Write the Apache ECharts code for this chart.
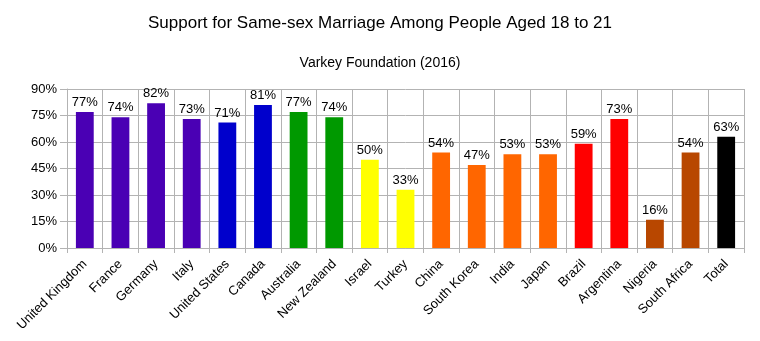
<!DOCTYPE html>
<html>
<head>
<meta charset="utf-8">
<script src="https://cdn.jsdelivr.net/npm/echarts@6/dist/echarts.min.js"></script>
<style>
  html, body { margin: 0; padding: 0; background: #fff; }
  #chart { width: 760px; height: 341px; }
</style>
</head>
<body>
<div id="chart"></div>
<script>
// Support for same-sex marriage, ages 18-21, by country
const countries = ['United Kingdom', 'France', 'Germany', 'Italy', 'United States', 'Canada',
  'Australia', 'New Zealand', 'Israel', 'Turkey', 'China', 'South Korea', 'India', 'Japan',
  'Brazil', 'Argentina', 'Nigeria', 'South Africa', 'Total'];
const support = [77, 74, 82, 73, 71, 81, 77, 74, 50, 33, 54, 47, 53, 53, 59, 73, 16, 54, 63];
const barColors = ['#4a00b4', '#4a00b4', '#4a00b4', '#4a00b4', '#0000cc', '#0000cc',
  '#009900', '#009900', '#ffff00', '#ffff00', '#ff6600', '#ff6600', '#ff6600', '#ff6600',
  '#ff0000', '#ff0000', '#b84700', '#b84700', '#000000'];
const yTicks = [0, 15, 30, 45, 60, 75, 90];

const chart = echarts.init(document.getElementById('chart'), null, { renderer: 'canvas' });
const font = 'Liberation Sans, Arial, sans-serif';

chart.setOption({
  animation: false,
  backgroundColor: '#ffffff',
  title: [
    { text: 'Support for Same-sex Marriage Among People Aged 18 to 21', left: 'center', top: 10,
      textStyle: { fontFamily: font, fontSize: 17, fontWeight: 'normal', color: '#000' } },
    { text: 'Varkey Foundation (2016)', left: 'center', top: 51,
      textStyle: { fontFamily: font, fontSize: 14, fontWeight: 'normal', color: '#000' } }
  ],
  grid: { left: 67, right: 16, top: 89, bottom: 93, containLabel: false },
  xAxis: {
    type: 'category',
    data: countries,
    axisLine: { show: true, lineStyle: { color: '#b3b3b3' } },
    axisTick: { show: true, length: 5, lineStyle: { color: '#b3b3b3' } },
    splitLine: { show: true, lineStyle: { color: '#b3b3b3' } },
    axisLabel: { rotate: 45, interval: 0, fontFamily: font, fontSize: 13, color: '#000', margin: 14 }
  },
  yAxis: {
    type: 'value',
    min: yTicks[0],
    max: yTicks[yTicks.length - 1],
    interval: 15,
    axisLine: { show: true, lineStyle: { color: '#b3b3b3' } },
    axisTick: { show: true, length: 7, lineStyle: { color: '#b3b3b3' } },
    splitLine: { show: true, lineStyle: { color: '#b3b3b3' } },
    axisLabel: { formatter: '{value}%', fontFamily: font, fontSize: 13, color: '#000', margin: 10 }
  },
  series: [{
    type: 'bar',
    data: support.map((v, i) => ({ value: v, itemStyle: { color: barColors[i] } })),
    barWidth: '50%',
    label: { show: true, position: 'top', formatter: '{c}%', fontFamily: font, fontSize: 13,
      color: '#000', distance: 3 }
  }]
});
</script>
</body>
</html>
